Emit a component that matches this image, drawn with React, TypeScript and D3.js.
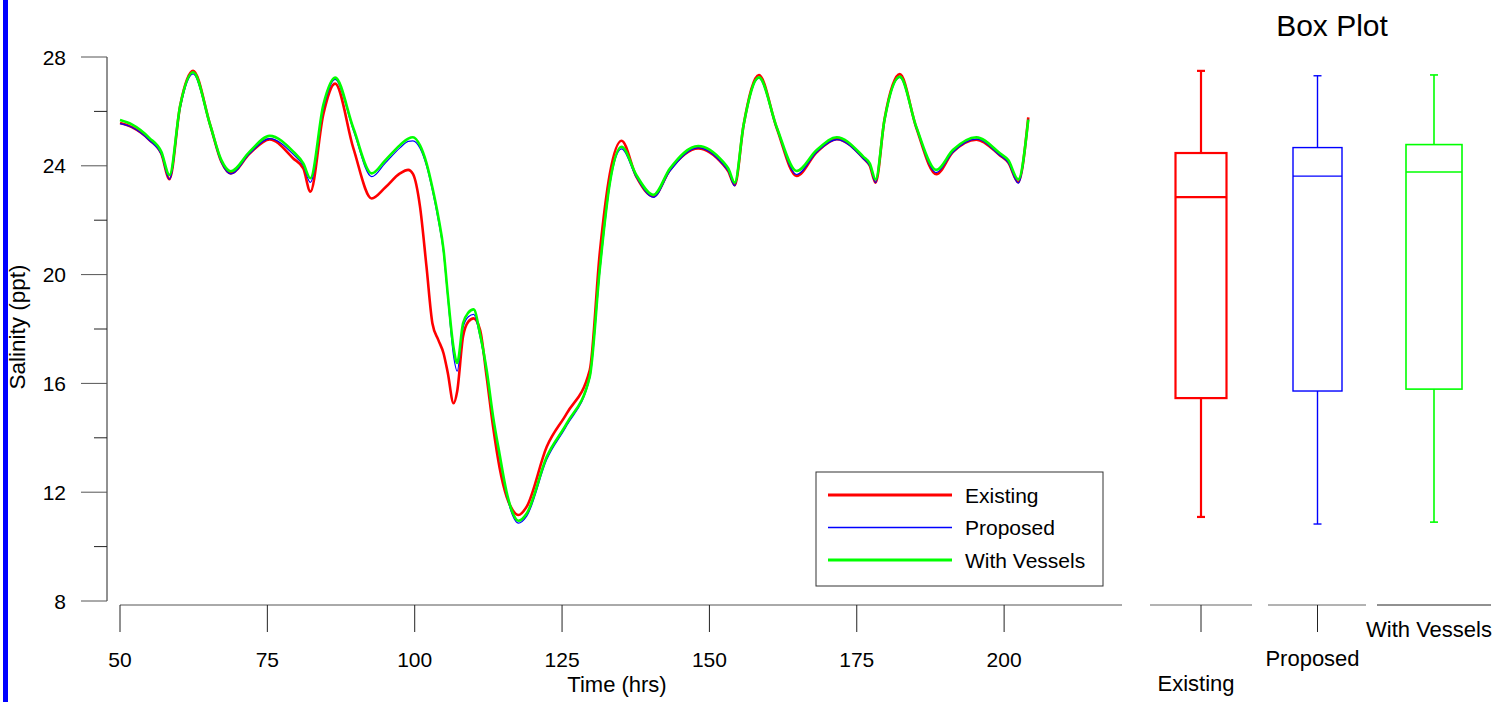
import React from "react";
import * as d3 from "d3";

// ---------- DATA ----------
const timeHrs = [
  50, 52, 55, 57, 58.4, 60.2, 62.4, 65.3, 67.2, 68.8, 72, 75.4, 79.4, 81.1, 82.3, 84.5, 86.5, 89.6, 92.7, 95,
  97.5, 98.9, 99.7, 100.9, 102, 103, 104, 104.9, 105.6, 106.6, 107.2, 108.2, 109.1, 110, 111.1, 112.2, 113.3,
  114.4, 115.6, 116.6, 117.6, 119, 122.4, 125.8, 129.7, 131.4, 133.1, 135.1, 137.6, 140.5, 143.3, 148.1, 152.3,
  153.2, 154.3, 155.8, 158.4, 161.4, 164.8, 168.2, 171.6, 176.1, 177.2, 178.2, 179.7, 182.3, 185.1, 188.5,
  191.3, 195.3, 199.3, 200.7, 202.4, 204.1,
];

const existing = [
  25.57, 25.42, 24.95, 24.45, 23.51, 26.2, 27.49, 25.5, 24.15, 23.72, 24.45, 24.97, 24.27, 23.9, 23.05, 25.9,
  27.02, 24.64, 22.8, 23.2,
  23.72, 23.85, 23.7, 22.5, 20.29, 18.21, 17.6, 17.1, 16.4, 15.27, 15.7, 17.72, 18.27, 18.39, 17.96, 16.25, 14.4,
  12.9, 11.83, 11.35, 11.16, 11.47, 13.67, 14.9, 16.49, 20.8, 23.7, 24.92, 23.6, 22.88, 23.85, 24.64, 24.05,
  23.8, 23.29, 25.5, 27.34, 25.4, 23.63, 24.5, 24.98, 24.28, 24.0, 23.38, 25.7, 27.37, 25.4, 23.69,
  24.5, 24.96, 24.38, 24.12, 23.4, 25.78,
];

const proposed = [
  25.55, 25.42, 24.93, 24.42, 23.5, 26.1, 27.38, 25.45, 24.12, 23.7, 24.45, 25.0, 24.42, 24.0, 23.39, 26.1,
  27.18, 25.3, 23.6, 24.1,
  24.66, 24.9, 24.92, 24.65, 24.0, 23.1, 22.0, 20.8, 19.2, 17.0, 16.45, 18.05, 18.45, 18.54, 17.7, 16.4, 14.7,
  13.3, 11.9, 11.15, 10.86, 11.12, 13.2, 14.45, 16.2, 20.1, 23.3, 24.62, 23.58, 22.84, 23.8, 24.66, 24.05,
  23.8, 23.26, 25.45, 27.22, 25.38, 23.68, 24.5, 24.96, 24.26, 24.0, 23.38, 25.62, 27.25, 25.38, 23.75,
  24.5, 24.98, 24.38, 24.12, 23.36, 25.7,
];

const withVessels = [
  25.68, 25.52, 25.02, 24.52, 23.66, 26.2, 27.44, 25.5, 24.21, 23.8, 24.52, 25.1, 24.52, 24.09, 23.54, 26.24,
  27.24, 25.38, 23.72, 24.2,
  24.76, 25.0, 25.05, 24.75, 24.1, 23.2, 22.13, 20.9, 19.3, 17.3, 16.75, 18.21, 18.6, 18.72, 17.8, 16.5, 14.78,
  13.4, 12.0, 11.25, 10.95, 11.22, 13.3, 14.53, 16.25, 20.2, 23.36, 24.7, 23.66, 22.93, 23.9, 24.73, 24.15,
  23.9, 23.38, 25.5, 27.25, 25.43, 23.81, 24.58, 25.05, 24.34, 24.09, 23.5, 25.68, 27.28, 25.43, 23.85,
  24.58, 25.05, 24.46, 24.21, 23.5, 25.7,
];

const seriesNames = ["Existing", "Proposed", "With Vessels"];
const xTicks = [50, 75, 100, 125, 150, 175, 200];
const yMajorTicks = [8, 12, 16, 20, 24, 28];
const yMinorTicks = [10, 14, 18, 22, 26];

// box plot statistics
const boxCategories = ["Existing", "Proposed", "With Vessels"];
const boxMin = [11.09, 10.83, 10.9];
const boxQ1 = [15.46, 15.72, 15.79];
const boxMedian = [22.85, 23.62, 23.77];
const boxQ3 = [24.47, 24.67, 24.78];
const boxMax = [27.49, 27.31, 27.34];

// ---------- STYLE ----------
const colors = ["#ff0000", "#0000ff", "#00ff00"];
const lineWidths = [2.6, 1.2, 2.6];
const legendWidths = [3, 1.4, 3];
const boxStroke = [2.2, 1.4, 1.6];
const boxWidths = [51, 49, 56];
const FONT = "'Liberation Sans', Arial, sans-serif";

export default function App() {
  const W = 1512;
  const H = 702;
  const x = d3.scaleLinear().domain([50, 220]).range([120, 1122]);
  const y = d3.scaleLinear().domain([8, 28]).range([601, 57]);

  const series = [existing, proposed, withVessels];
  const line = d3
    .line<number>()
    .x((_, i) => x(timeHrs[i]))
    .y((d) => y(d))
    .curve(d3.curveMonotoneX);

  const boxX = d3.scalePoint<string>().domain(boxCategories).range([1201, 1434]);
  const boxAxisSpans = [
    [1150, 1252],
    [1268, 1366],
    [1377, 1491],
  ];
  const boxLabelBaselines = [691, 666, 637];
  const boxTickShown = [true, true, false];

  const yAxisX = 107;
  const xAxisY = 605;
  const legendX = 816;
  const legendY = 472;
  const legendRows = [495, 527.5, 560];

  return (
    <svg
      width={W}
      height={H}
      style={{ position: "absolute", left: 0, top: 0, background: "#fff" }}
      fontFamily={FONT}
    >
      <rect x={0} y={0} width={W} height={H} fill="#fff" />
      {/* blue left bar */}
      <rect x={3} y={0} width={5} height={H} fill="#0000ff" />

      {/* Y axis */}
      <line x1={yAxisX} x2={yAxisX} y1={y(28)} y2={y(8)} stroke="#222" strokeWidth={1} />
      {yMajorTicks.map((t) => (
        <g key={"ym" + t}>
          <line x1={81} x2={yAxisX} y1={y(t)} y2={y(t)} stroke="#555" strokeWidth={1} />
          <text x={66} y={y(t)} dy="0.36em" textAnchor="end" fontSize={21} fill="#000">
            {t}
          </text>
        </g>
      ))}
      {yMinorTicks.map((t) => (
        <line key={"yn" + t} x1={94} x2={yAxisX} y1={y(t)} y2={y(t)} stroke="#222" strokeWidth={1} />
      ))}
      <text
        transform={`translate(25,327) rotate(-90)`}
        textAnchor="middle"
        fontSize={22.5}
        fill="#000"
      >
        Salinity (ppt)
      </text>

      {/* X axis */}
      <line x1={x(50)} x2={x(220)} y1={xAxisY} y2={xAxisY} stroke="#555" strokeWidth={1} />
      {xTicks.map((t) => (
        <g key={"xt" + t}>
          <line x1={x(t)} x2={x(t)} y1={xAxisY} y2={632} stroke="#222" strokeWidth={1} />
          <text x={x(t)} y={667} textAnchor="middle" fontSize={21} fill="#000">
            {t}
          </text>
        </g>
      ))}
      <text x={617} y={692} textAnchor="middle" fontSize={22} fill="#000">
        Time (hrs)
      </text>

      {/* series */}
      {series.map((s, i) => (
        <path
          key={"s" + i}
          d={line(s) || ""}
          fill="none"
          stroke={colors[i]}
          strokeWidth={lineWidths[i]}
          strokeLinejoin="round"
        />
      ))}

      {/* legend */}
      <rect
        x={legendX}
        y={legendY}
        width={287}
        height={114}
        fill="#fff"
        stroke="#333"
        strokeWidth={1}
      />
      {seriesNames.map((n, i) => (
        <g key={"lg" + i}>
          <line
            x1={828}
            x2={952}
            y1={legendRows[i]}
            y2={legendRows[i]}
            stroke={colors[i]}
            strokeWidth={legendWidths[i]}
          />
          <text x={965} y={legendRows[i] + 7.5} fontSize={21} fill="#000">
            {n}
          </text>
        </g>
      ))}

      {/* Box plot */}
      <text x={1332} y={36} textAnchor="middle" fontSize={30} fill="#000">
        Box Plot
      </text>
      {boxCategories.map((c, i) => {
        const cx = boxX(c) as number;
        const bw = boxWidths[i];
        const capW = 8;
        return (
          <g key={"bx" + i} stroke={colors[i]} strokeWidth={boxStroke[i]} fill="none">
            <line x1={cx} x2={cx} y1={y(boxMax[i])} y2={y(boxQ3[i])} />
            <line x1={cx} x2={cx} y1={y(boxQ1[i])} y2={y(boxMin[i])} />
            <line x1={cx - capW / 2} x2={cx + capW / 2} y1={y(boxMax[i])} y2={y(boxMax[i])} />
            <line x1={cx - capW / 2} x2={cx + capW / 2} y1={y(boxMin[i])} y2={y(boxMin[i])} />
            <rect x={cx - bw / 2} y={y(boxQ3[i])} width={bw} height={y(boxQ1[i]) - y(boxQ3[i])} />
            <line x1={cx - bw / 2} x2={cx + bw / 2} y1={y(boxMedian[i])} y2={y(boxMedian[i])} />
          </g>
        );
      })}
      {boxCategories.map((c, i) => {
        const cx = boxX(c) as number;
        const [a, b] = boxAxisSpans[i];
        return (
          <g key={"ba" + i}>
            <line x1={a} x2={b} y1={xAxisY} y2={xAxisY} stroke={i === 2 ? "#222" : "#666"} strokeWidth={1} />
            {boxTickShown[i] && (
              <line x1={cx} x2={cx} y1={xAxisY} y2={632} stroke="#222" strokeWidth={1} />
            )}
            <text x={cx - 5} y={boxLabelBaselines[i]} textAnchor="middle" fontSize={22} fill="#000">
              {c}
            </text>
          </g>
        );
      })}
    </svg>
  );
}
